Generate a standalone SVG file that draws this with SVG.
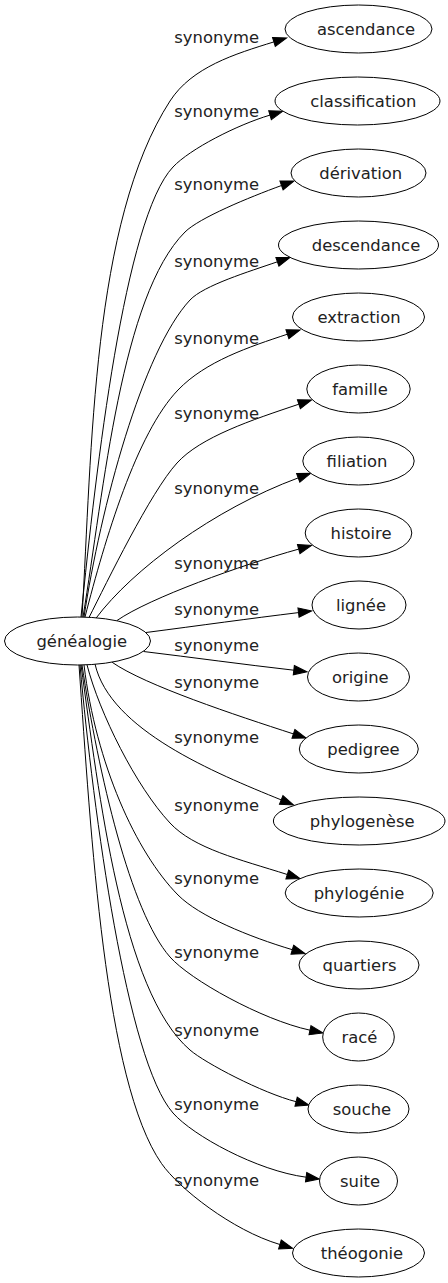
<svg xmlns="http://www.w3.org/2000/svg" width="448" height="1283" viewBox="0 0 448 1283">
<style>
.n ellipse{fill:#fff;stroke:#000;stroke-width:1}
.n text{font-family:"DejaVu Sans",Verdana,sans-serif;font-size:16.4px;fill:#222;text-anchor:middle}
.lbl{font-family:"DejaVu Sans",Verdana,sans-serif;font-size:16.4px;fill:#222;text-anchor:middle}
#edges path{fill:none;stroke:#000;stroke-width:1;marker-end:url(#ah)}
</style>
<defs>
<marker id="ah" markerUnits="userSpaceOnUse" orient="auto" markerWidth="16" markerHeight="12" refX="0" refY="6" overflow="visible">
<path d="M0,1.33 L13.3,6 L0,10.67 Z" fill="#000" stroke="#000" stroke-width="1"/>
</marker>
</defs>
<rect width="448" height="1283" fill="#fff"/>
<g id="edges">
<path d="M82,617 C92,450 92,222 170,101 C192,67 234.9,54 273.9,41.9"/>
<path d="M81,617 C96,468 124.7,218 173,167 C190,149 236.5,125.1 270,115.1"/>
<path d="M83,617 C104,489 121.4,295.6 185,232 C199,218 248.6,197.5 281.5,185.5"/>
<path d="M84,617 C100.5,508 142.4,351 190,300 C203.6,285.4 249,271.6 277.4,261.8"/>
<path d="M85,617 C105,539 136.6,433 178,390 C205.6,361.2 249.4,346.8 287.4,334.2"/>
<path d="M89,617.5 C107,582 150.2,492.6 177,463 C200.5,437.1 251.5,420 298.9,404.2"/>
<path d="M96,618.2 C132,570 213.8,509 298.2,477.9"/>
<path d="M117,620.5 C150,597.7 241,565.2 298.7,549.1"/>
<path d="M146,632.5 C200,625.5 250,618.5 298.5,612.6"/>
<path d="M143.5,651.5 C193,657.5 243,664.4 293.8,670.2"/>
<path d="M112,662.2 C145,685.3 236.3,715.4 293.4,733.9"/>
<path d="M95,664 C110,730 215,773 281.2,799.9"/>
<path d="M87,664.8 C99.5,713.3 136,786.5 170,823 C193.8,848.6 239.7,859.4 287.3,874.5"/>
<path d="M84,665 C96,764 136,852.4 178,895 C199,916.3 249.2,936.8 292.3,949.7"/>
<path d="M82,665 C98.5,774 130.4,912 170,957 C189.8,979.5 261.2,1019.6 310,1030.2"/>
<path d="M81,665 C99,794 121.6,991.5 190,1050 C205,1063 262.2,1093 296.1,1101.7"/>
<path d="M80,665 C93.5,814 126.8,1060.5 173,1113 C192.8,1135.5 256.5,1170.6 306.1,1177.2"/>
<path d="M79,665 C91,834.5 104.5,1081.5 161.5,1163.5 C178.6,1188.1 232,1230.3 279.9,1244.5"/>
</g>
<g id="labels">
<text class="lbl" x="216.7" y="42.5">synonyme</text>
<text class="lbl" x="216.7" y="117">synonyme</text>
<text class="lbl" x="216.7" y="190">synonyme</text>
<text class="lbl" x="216.7" y="267">synonyme</text>
<text class="lbl" x="216.7" y="344">synonyme</text>
<text class="lbl" x="216.7" y="419">synonyme</text>
<text class="lbl" x="216.7" y="494">synonyme</text>
<text class="lbl" x="216.7" y="569">synonyme</text>
<text class="lbl" x="216.7" y="615">synonyme</text>
<text class="lbl" x="216.7" y="651">synonyme</text>
<text class="lbl" x="216.7" y="688">synonyme</text>
<text class="lbl" x="216.7" y="743">synonyme</text>
<text class="lbl" x="216.7" y="811">synonyme</text>
<text class="lbl" x="216.7" y="884">synonyme</text>
<text class="lbl" x="216.7" y="958">synonyme</text>
<text class="lbl" x="216.7" y="1036">synonyme</text>
<text class="lbl" x="216.7" y="1110">synonyme</text>
<text class="lbl" x="216.7" y="1186">synonyme</text>
</g>
<g id="genealogie" class="n"><ellipse cx="77.5" cy="641" rx="73" ry="24"/><text x="81.8" y="646.7">généalogie</text></g>
<g id="ascendance" class="n"><ellipse cx="358.5" cy="29" rx="73.5" ry="24"/><text x="366" y="34.7">ascendance</text></g>
<g id="classification" class="n"><ellipse cx="357.5" cy="101" rx="82.5" ry="24"/><text x="363.3" y="106.7">classification</text></g>
<g id="derivation" class="n"><ellipse cx="358.5" cy="173" rx="67.5" ry="24"/><text x="360.8" y="178.7">dérivation</text></g>
<g id="descendance" class="n"><ellipse cx="358.5" cy="245" rx="80" ry="24"/><text x="366" y="250.7">descendance</text></g>
<g id="extraction" class="n"><ellipse cx="358.5" cy="317" rx="66" ry="24"/><text x="359" y="322.7">extraction</text></g>
<g id="famille" class="n"><ellipse cx="358.5" cy="389" rx="51.7" ry="24"/><text x="360" y="394.7">famille</text></g>
<g id="filiation" class="n"><ellipse cx="358.5" cy="461" rx="55.7" ry="24"/><text x="357" y="466.7">filiation</text></g>
<g id="histoire" class="n"><ellipse cx="358.5" cy="533" rx="53.3" ry="24"/><text x="361" y="538.7">histoire</text></g>
<g id="lignee" class="n"><ellipse cx="359" cy="605" rx="47" ry="24"/><text x="361" y="610.7">lignée</text></g>
<g id="origine" class="n"><ellipse cx="358.5" cy="677" rx="51" ry="24"/><text x="360.3" y="682.7">origine</text></g>
<g id="pedigree" class="n"><ellipse cx="358.8" cy="749" rx="59.5" ry="24"/><text x="363.5" y="754.7">pedigree</text></g>
<g id="phylogenese" class="n"><ellipse cx="359.2" cy="821" rx="85.8" ry="24"/><text x="362.2" y="826.7">phylogenèse</text></g>
<g id="phylogenie" class="n"><ellipse cx="359.2" cy="893" rx="74" ry="24"/><text x="359" y="898.7">phylogénie</text></g>
<g id="quartiers" class="n"><ellipse cx="359" cy="965" rx="60" ry="24"/><text x="359.5" y="970.7">quartiers</text></g>
<g id="race" class="n"><ellipse cx="358.5" cy="1037" rx="35.8" ry="24"/><text x="359.5" y="1042.7">racé</text></g>
<g id="souche" class="n"><ellipse cx="358.5" cy="1109" rx="50.5" ry="24"/><text x="362" y="1114.7">souche</text></g>
<g id="suite" class="n"><ellipse cx="358.5" cy="1181" rx="39" ry="24"/><text x="360" y="1186.7">suite</text></g>
<g id="theogonie" class="n"><ellipse cx="358.5" cy="1253" rx="66" ry="24"/><text x="362" y="1258.7">théogonie</text></g>
</svg>
